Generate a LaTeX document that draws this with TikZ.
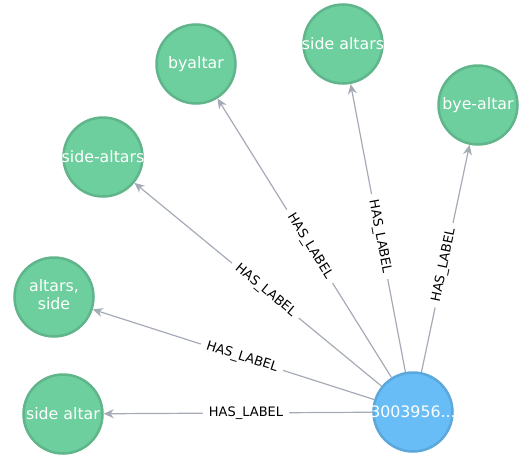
\documentclass[tikz,border=0pt]{standalone}
\usepackage{fontspec}
\setmainfont{DejaVu Sans}
\usetikzlibrary{arrows.meta}
\definecolor{gfill}{HTML}{6DCE9E}
\definecolor{gline}{HTML}{60B58B}
\definecolor{bfill}{HTML}{68BDF6}
\definecolor{bline}{HTML}{5CA8DB}
\definecolor{edgec}{HTML}{A5ABB6}
\newcommand{\ctext}[1]{\makebox[0pt][c]{#1}}
\begin{document}
\begin{tikzpicture}[x=1pt,y=-1pt,
  circ/.style={circle, minimum size=79pt, inner sep=0pt, line width=2.5pt, text=white,
    font=\fontsize{15.8}{17}\selectfont},
  gnode/.style={circ, fill=gfill, draw=gline},
  bnode/.style={circ, fill=bfill, draw=bline},
  rel/.style={draw=edgec, line width=1.2pt, -{Stealth[length=10pt,width=9pt]}},
  elab/.style={sloped, fill=white, inner xsep=6pt, inner ysep=1pt, text=black,
    font=\fontsize{13}{14}\selectfont}
]
\useasboundingbox (0,0) rectangle (519,458);
\node[bnode] (c) at (413,412) {\ctext{3003956...}};
\node[gnode] (a1) at (63,414) {\ctext{side altar}};
\node[gnode] (a2) at (54,297) {\ctext{\begin{tabular}{@{}c@{}}altars,\\side\end{tabular}}};
\node[gnode] (a3) at (103,157) {\ctext{side-altars}};
\node[gnode] (a4) at (196,64) {\ctext{byaltar}};
\node[gnode] (a5) at (343,44) {\ctext{side altars}};
\node[gnode] (a6) at (478,105) {\ctext{bye-altar}};
\foreach \t in {a1,a2,a3,a4,a5,a6}{
  \draw[rel] (c) -- node[elab, pos=0.47] {HAS\_LABEL} (\t);
}
\end{tikzpicture}
\end{document}
